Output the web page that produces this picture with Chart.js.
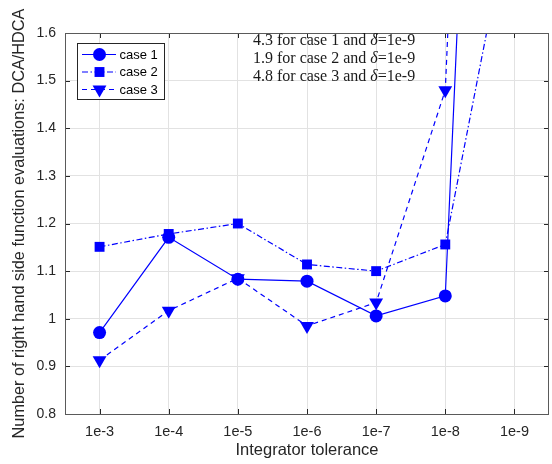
<!DOCTYPE html>
<html>
<head>
<meta charset="utf-8">
<script src="https://cdn.jsdelivr.net/npm/chart.js@4.4.1/dist/chart.umd.min.js"></script>
<style>
  html, body { margin: 0; padding: 0; background: #fff; }
  #wrap { width: 552px; height: 464px; }
</style>
</head>
<body>
<div id="wrap"><canvas id="tolChart" width="552" height="464"></canvas></div>
<script>
// tolerances on the x axis
const tolerances = ['1e-3', '1e-4', '1e-5', '1e-6', '1e-7', '1e-8', '1e-9'];

// DCA/HDCA ratios (last point is far above the axis)
const case1 = [0.971, 1.171, 1.083, 1.079, 1.006, 1.048, 4.3];
const case2 = [1.151, 1.178, 1.200, 1.114, 1.100, 1.156, 1.9];
const case3 = [0.913, 1.017, 1.085, 0.985, 1.034, 1.480, 4.8];

const yTicks = [0.8, 0.9, 1.0, 1.1, 1.2, 1.3, 1.4, 1.5, 1.6];

const axisColor = '#262626';
const sans = '"Liberation Sans", Arial, sans-serif';
const serif = '"Liberation Serif", "Times New Roman", serif';
const blue = '#0000ff';

const datasets = [
  { label: 'case 1', data: case1, borderColor: blue, backgroundColor: blue,
    borderWidth: 1.2, borderDash: [], pointStyle: 'circle', pointRadius: 6.5,
    pointRotation: 0 },
  { label: 'case 2', data: case2, borderColor: blue, backgroundColor: blue,
    borderWidth: 1.2, borderDash: [6, 2.5, 1.5, 2.5], pointStyle: 'rect', pointRadius: 7,
    pointRotation: 0 },
  { label: 'case 3', data: case3, borderColor: blue, backgroundColor: blue,
    borderWidth: 1.2, borderDash: [5, 4], pointStyle: 'triangle', pointRadius: 8,
    pointRotation: 180 },
];
datasets.forEach((d) => {
  d.fill = false;
  d.tension = 0;
  d.pointBorderWidth = 0;
  d.pointHoverRadius = d.pointRadius;
});

// box, inward ticks, legend and note text in matlab style
const matlabAxes = {
  id: 'matlabAxes',
  afterDraw(chart) {
    const { ctx, chartArea: a, scales } = chart;
    ctx.save();
    ctx.strokeStyle = axisColor;
    ctx.lineWidth = 1;
    ctx.beginPath();
    scales.x.ticks.forEach((t, i) => {
      const x = Math.round(scales.x.getPixelForTick(i)) + 0.5;
      ctx.moveTo(x, a.bottom); ctx.lineTo(x, a.bottom - 5);
      ctx.moveTo(x, a.top); ctx.lineTo(x, a.top + 5);
    });
    scales.y.ticks.forEach((t, i) => {
      const y = Math.round(scales.y.getPixelForTick(i)) + 0.5;
      ctx.moveTo(a.left, y); ctx.lineTo(a.left + 5, y);
      ctx.moveTo(a.right, y); ctx.lineTo(a.right - 5, y);
    });
    ctx.stroke();
    ctx.strokeStyle = '#5a5a5a';
    ctx.strokeRect(Math.round(a.left) + 0.5, Math.round(a.top) + 0.5,
      Math.round(a.right - a.left) - 1, Math.round(a.bottom - a.top));

    // notes for the points that leave the axis at 1e-9
    ctx.fillStyle = '#1a1a1a';
    ctx.textBaseline = 'middle';
    datasets.forEach((d, i) => {
      const y = 40.5 + i * 18.3;
      let x = 253;
      const last = d.data[d.data.length - 1];
      const parts = [
        [last.toFixed(1) + ' for ' + d.label + ' and ', 'normal'],
        ['\u03b4', 'italic'],
        ['=' + tolerances[tolerances.length - 1], 'normal'],
      ];
      parts.forEach(([txt, style]) => {
        ctx.font = style + ' 16px ' + serif;
        ctx.fillText(txt, x, y);
        x += ctx.measureText(txt).width;
      });
    });

    // legend
    const lx = 77, ly = 43, lw = 87, lh = 56;
    ctx.fillStyle = '#fff';
    ctx.fillRect(lx, ly, lw, lh);
    ctx.strokeStyle = axisColor;
    ctx.strokeRect(lx + 0.5, ly + 0.5, lw, lh);
    datasets.forEach((d, i) => {
      const y = 54.5 + i * 17.5;
      ctx.strokeStyle = d.borderColor;
      ctx.lineWidth = d.borderWidth;
      ctx.setLineDash(d.borderDash);
      ctx.beginPath();
      ctx.moveTo(82, y); ctx.lineTo(116, y);
      ctx.stroke();
      ctx.setLineDash([]);
      ctx.fillStyle = d.backgroundColor;
      Chart.helpers.drawPoint(ctx, {
        pointStyle: d.pointStyle, radius: d.pointRadius, rotation: d.pointRotation,
        borderWidth: 0,
      }, 99.5, y);
      ctx.fillStyle = '#000';
      ctx.font = '13px ' + sans;
      ctx.textBaseline = 'middle';
      ctx.fillText(d.label, 119.5, y + 0.5);
    });
    ctx.restore();
  },
};

const chart = new Chart(document.getElementById('tolChart').getContext('2d'), {
  type: 'line',
  data: { labels: tolerances, datasets: datasets },
  options: {
    responsive: false,
    animation: false,
    events: [],
    layout: { autoPadding: false, padding: { top: 33, right: 3, left: 0, bottom: 0 } },
    plugins: { legend: { display: false }, tooltip: { enabled: false } },
    scales: {
      x: {
        type: 'category',
        offset: true,
        grid: { color: '#e2e2e2', offset: false, drawTicks: false },
        border: { display: false },
        ticks: { color: axisColor, font: { family: sans, size: 14.5 }, padding: 9,
          maxRotation: 0, autoSkip: false },
        title: { display: true, text: 'Integrator tolerance', color: axisColor, padding: 0,
          font: { family: sans, size: 16.5, lineHeight: '28px' } },
        afterFit: (s) => { s.height = 50; s.paddingLeft = 0; s.paddingRight = 0; },
      },
      y: {
        min: yTicks[0],
        max: yTicks[yTicks.length - 1],
        afterBuildTicks: (s) => { s.ticks = yTicks.map((v) => ({ value: v })); },
        grid: { color: '#e2e2e2', drawTicks: false },
        border: { display: false },
        ticks: { color: axisColor, font: { family: sans, size: 14 }, padding: 9,
          callback: (v) => String(Number(v.toFixed(1))) },
        title: { display: true, text: 'Number of right hand side function evaluations: DCA/HDCA',
          color: axisColor, padding: 0, font: { family: sans, size: 16.3, lineHeight: '39px' } },
        afterFit: (s) => { s.width = 65; s.paddingTop = 0; s.paddingBottom = 0; },
      },
    },
  },
  plugins: [matlabAxes],
});
</script>
</body>
</html>
